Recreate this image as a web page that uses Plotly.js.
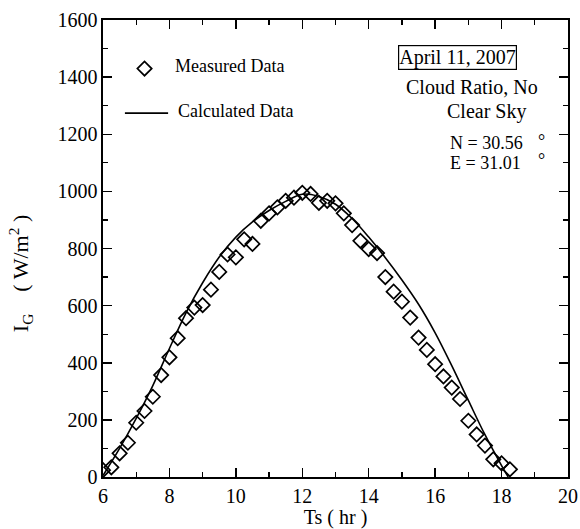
<!DOCTYPE html>
<html>
<head>
<meta charset="utf-8">
<script src="https://cdn.plot.ly/plotly-3.0.1.min.js"></script>
<style>
  html, body { margin: 0; padding: 0; background: #fff; }
  #chart { width: 580px; height: 529px; }
</style>
</head>
<body>
<div id="chart"></div>
<script>
// Solar time (hr) of each measurement and measured global irradiance (W/m2)
const measuredTime = [6.0, 6.25, 6.5, 6.75, 7.0, 7.25, 7.5, 7.75, 8.0, 8.25,
  8.5, 8.75, 9.0, 9.25, 9.5, 9.75, 10.0, 10.25, 10.5, 10.75,
  11.0, 11.25, 11.5, 11.75, 12.0, 12.25, 12.5, 12.75, 13.0, 13.25,
  13.5, 13.75, 14.0, 14.25, 14.5, 14.75, 15.0, 15.25, 15.5, 15.75,
  16.0, 16.25, 16.5, 16.75, 17.0, 17.25, 17.5, 17.75, 18.0, 18.25];
const measuredIG = [24, 34, 83, 120, 190, 231, 281, 357, 419, 486,
  556, 593, 602, 656, 718, 779, 769, 832, 816, 897,
  923, 944, 967, 978, 995, 991, 960, 967, 958, 923,
  882, 827, 798, 784, 700, 649, 614, 558, 488, 445,
  395, 352, 313, 273, 197, 149, 110, 62, 48, 27];

// Model output (calculated irradiance)
const calcTime = [6.0, 6.5, 7.0, 7.5, 8.0, 8.5, 9.0, 9.5, 10.0, 10.5,
  11.0, 11.5, 12.0, 12.5, 13.0, 13.5, 14.0, 14.5, 15.0, 15.5,
  16.0, 16.5, 17.0, 17.5, 18.0, 18.2];
const calcIG = [5, 100, 205, 320, 450, 575, 680, 770, 840, 893,
  933, 965, 990, 982, 955, 905, 840, 768, 690, 605,
  505, 390, 268, 148, 40, 0];

const xTicks = [6, 8, 10, 12, 14, 16, 18, 20];
const yTicks = [0, 200, 400, 600, 800, 1000, 1200, 1400, 1600];

const serif = 'Liberation Serif, Times New Roman, serif';
const ink = '#000';

const diamond = { symbol: 'diamond-open', size: 11, color: ink, line: { width: 1.7, color: ink } };

const traces = [
  {
    x: calcTime, y: calcIG, type: 'scatter', mode: 'lines',
    line: { color: ink, width: 1.6, shape: 'spline', smoothing: 1 },
    hoverinfo: 'skip', showlegend: false
  },
  {
    x: measuredTime, y: measuredIG, type: 'scatter', mode: 'markers',
    marker: diamond, showlegend: false
  },
  // key symbol for the measured series
  {
    x: [7.25], y: [1430], type: 'scatter', mode: 'markers',
    marker: diamond, hoverinfo: 'skip', showlegend: false
  }
];

const axisCommon = {
  showgrid: false, zeroline: false,
  showline: true, linecolor: ink, linewidth: 1.6,
  mirror: 'allticks', ticks: 'inside', ticklen: 9, tickwidth: 1.5, tickcolor: ink,
  tickfont: { family: serif, size: 20, color: ink }
};

const note = (x, y, text, extra) => Object.assign({
  x: x, y: y, xref: 'x', yref: 'y', text: text, showarrow: false,
  font: { family: serif, size: 20, color: ink }
}, extra || {});

const layout = {
  width: 580, height: 529,
  margin: { l: 103, r: 12, t: 20, b: 52 },
  paper_bgcolor: '#fff', plot_bgcolor: '#fff',
  showlegend: false,
  xaxis: Object.assign({}, axisCommon, {
    range: [6, 20], tickvals: xTicks, ticktext: xTicks.map(String),
    minor: { dtick: 1, ticks: 'inside', ticklen: 5, tickwidth: 1.2, tickcolor: ink },
    title: { text: 'Ts ( hr )', font: { family: serif, size: 20, color: ink }, standoff: 2 }
  }),
  yaxis: Object.assign({}, axisCommon, {
    range: [0, 1600], tickvals: yTicks, ticktext: yTicks.map(String),
    minor: { dtick: 100, ticks: 'inside', ticklen: 5, tickwidth: 1.2, tickcolor: ink }
  }),
  shapes: [
    // key line for the calculated series
    { type: 'line', xref: 'x', yref: 'y', x0: 6.66, x1: 7.96, y0: 1274, y1: 1274,
      line: { color: ink, width: 1.6 } }
  ],
  annotations: [
    // vertical axis title
    { x: -0.215, y: 0.445, xref: 'paper', yref: 'paper', textangle: -90, showarrow: false,
      text: 'I<sub>G</sub>    ( W/m<sup>2</sup> )',
      font: { family: serif, size: 22, color: ink } },
    note(8.1, 1439, 'Measured Data', { xanchor: 'left', font: { family: serif, size: 18, color: ink } }),
    note(8.2, 1281, 'Calculated Data', { xanchor: 'left', font: { family: serif, size: 18, color: ink } }),
    note(16.66, 1469, 'April 11, 2007', { bordercolor: ink, borderwidth: 1.2, borderpad: 0, bgcolor: '#fff' }),
    note(17.11, 1366, 'Cloud Ratio, No'),
    note(17.54, 1278, 'Clear Sky'),
    note(16.39, 1169, 'N = 30.56', { xanchor: 'left', font: { family: serif, size: 18, color: ink } }),
    note(16.39, 1099, 'E = 31.01', { xanchor: 'left', font: { family: serif, size: 18, color: ink } }),
    note(19.2, 1175, '°', { font: { family: serif, size: 18, color: ink } }),
    note(19.2, 1110, '°', { font: { family: serif, size: 18, color: ink } })
  ]
};

Plotly.newPlot('chart', traces, layout, { staticPlot: true, displayModeBar: false });
</script>
</body>
</html>
